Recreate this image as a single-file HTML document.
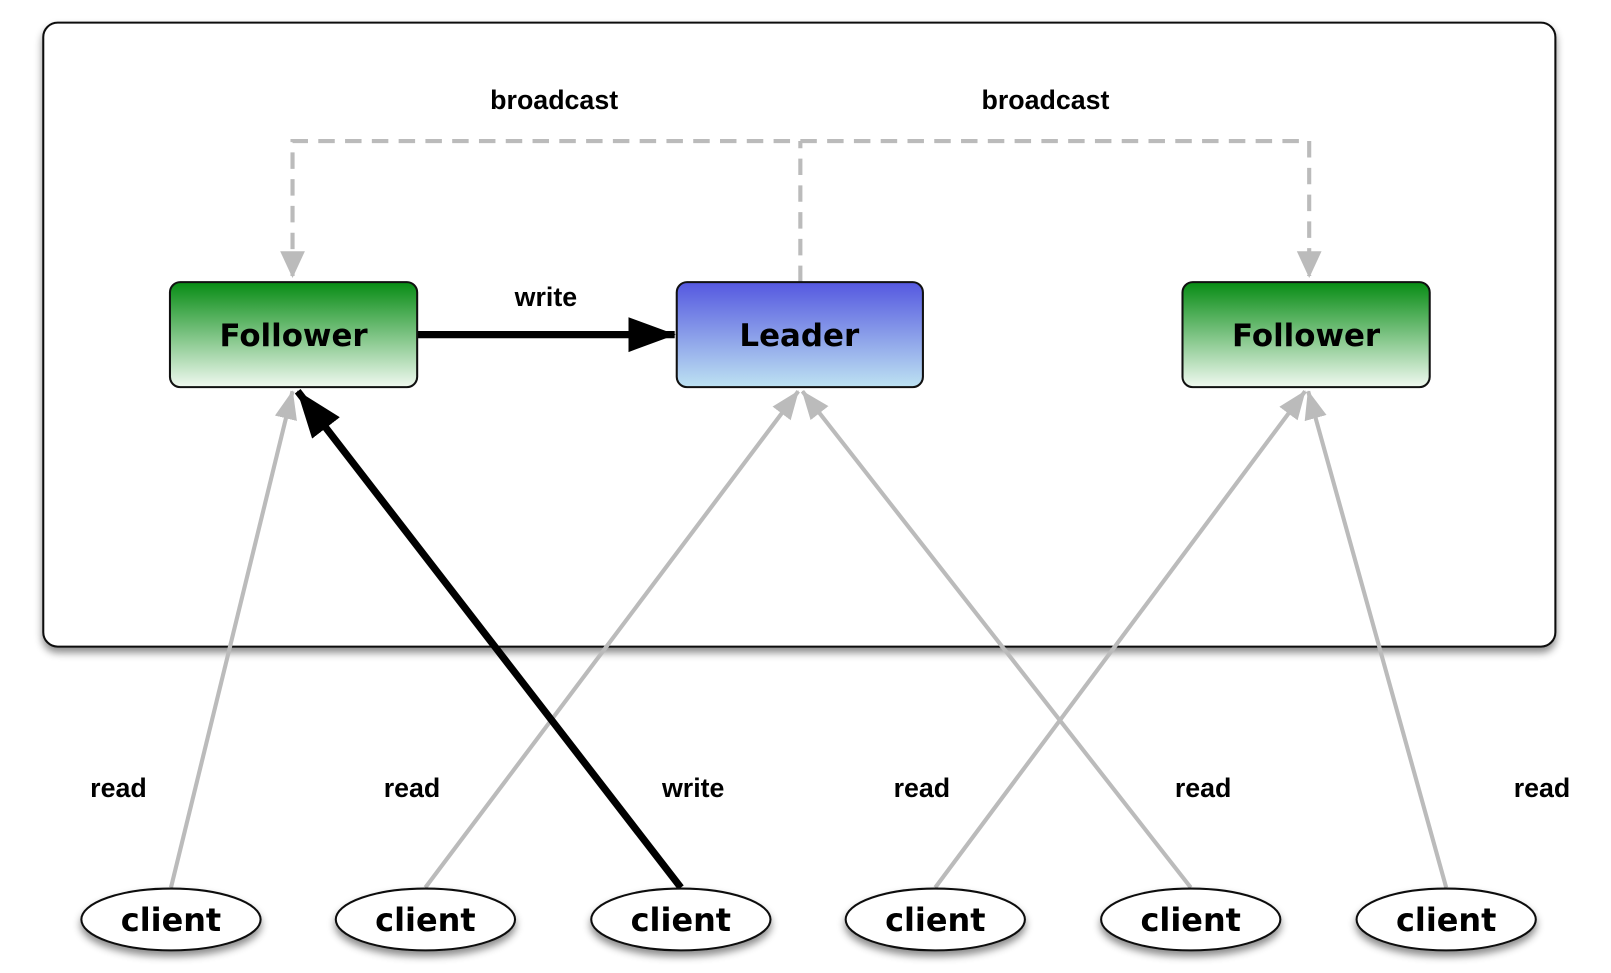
<!DOCTYPE html>
<html><head><style>html,body{margin:0;padding:0;background:#fff}svg{display:block}</style></head><body>
<svg width="1611" height="973" viewBox="0 0 1564 945" preserveAspectRatio="none" xmlns="http://www.w3.org/2000/svg" font-family="Liberation Sans, sans-serif" font-weight="bold">
<defs>
<linearGradient id="g" x1="0" y1="0" x2="0" y2="1"><stop offset="0" stop-color="#078c14"/><stop offset="1" stop-color="#f0f9f0"/></linearGradient>
<linearGradient id="b" x1="0" y1="0" x2="0" y2="1"><stop offset="0" stop-color="#5558e0"/><stop offset="1" stop-color="#bde2f2"/></linearGradient>
<filter id="s" x="-10%" y="-10%" width="130%" height="150%"><feDropShadow dx="0" dy="5" stdDeviation="4" flood-color="#000" flood-opacity="0.45"/></filter>
<marker id="ga" markerWidth="10" markerHeight="10" refX="9" refY="5" orient="auto" markerUnits="userSpaceOnUse" viewBox="0 0 10 10"><path d="M0,0 L10,5 L0,10 z" fill="#bbb"/></marker>
<marker id="gb" markerWidth="28" markerHeight="28" refX="27" refY="14" orient="auto" markerUnits="userSpaceOnUse" viewBox="0 0 28 28"><path d="M0,3 L28,14 L0,25 z" fill="#bbb"/></marker>
<marker id="ba" markerWidth="46" markerHeight="40" refX="45" refY="20" orient="auto" markerUnits="userSpaceOnUse" viewBox="0 0 46 40"><path d="M0,3 L46,20 L0,37 z" fill="#000"/></marker>
</defs>
<rect x="42" y="22" width="1468" height="606" rx="14" fill="#fff" stroke="#111" stroke-width="2" filter="url(#s)"/>
<g stroke="#bbb" stroke-width="4" stroke-dasharray="16,10" fill="none">
<path d="M777,274 L777,137"/>
<path d="M284,268 L284,137 L1271,137 L1271,268"/>
</g>
<path d="M272,244 L284,270 L296,244 z" fill="#bbb"/>
<path d="M1259,244 L1271,270 L1283,244 z" fill="#bbb"/>
<text x="538" y="106" font-size="26" text-anchor="middle">broadcast</text>
<text x="1015" y="106" font-size="26" text-anchor="middle">broadcast</text>
<g stroke="#bbb" stroke-width="4">
<line x1="166" y1="862" x2="284" y2="380" marker-end="url(#gb)"/>
<line x1="413" y1="862" x2="775" y2="380" marker-end="url(#gb)"/>
<line x1="1156" y1="862" x2="779" y2="380" marker-end="url(#gb)"/>
<line x1="908" y1="862" x2="1267" y2="380" marker-end="url(#gb)"/>
<line x1="1404" y1="862" x2="1270" y2="380" marker-end="url(#gb)"/>
</g>
<line x1="661" y1="862" x2="289" y2="380" stroke="#000" stroke-width="7" marker-end="url(#ba)"/>
<line x1="405" y1="325" x2="655" y2="325" stroke="#000" stroke-width="7" marker-end="url(#ba)"/>
<text x="530" y="297" font-size="26" text-anchor="middle">write</text>
<rect x="165" y="274" width="240" height="102" rx="10" fill="url(#g)" stroke="#111" stroke-width="2"/>
<rect x="657" y="274" width="239" height="102" rx="10" fill="url(#b)" stroke="#111" stroke-width="2"/>
<rect x="1148" y="274" width="240" height="102" rx="10" fill="url(#g)" stroke="#111" stroke-width="2"/>
<g font-size="30" text-anchor="middle" font-family="DejaVu Sans, sans-serif">
<text x="285" y="336">Follower</text>
<text x="776" y="336">Leader</text>
<text x="1268" y="336">Follower</text>
</g>
<g font-size="26" text-anchor="middle">
<text x="115" y="774">read</text><text x="400" y="774">read</text><text x="673" y="774">write</text>
<text x="895" y="774">read</text><text x="1168" y="774">read</text><text x="1497" y="774">read</text>
</g>
<g fill="#fff" stroke="#111" stroke-width="2" filter="url(#s)">
<ellipse cx="166" cy="893" rx="87" ry="30"/><ellipse cx="413" cy="893" rx="87" ry="30"/><ellipse cx="661" cy="893" rx="87" ry="30"/>
<ellipse cx="908" cy="893" rx="87" ry="30"/><ellipse cx="1156" cy="893" rx="87" ry="30"/><ellipse cx="1404" cy="893" rx="87" ry="30"/>
</g>
<g font-size="31" text-anchor="middle" font-family="DejaVu Sans, sans-serif">
<text x="166" y="904">client</text><text x="413" y="904">client</text><text x="661" y="904">client</text>
<text x="908" y="904">client</text><text x="1156" y="904">client</text><text x="1404" y="904">client</text>
</g>
</svg>
</body></html>
